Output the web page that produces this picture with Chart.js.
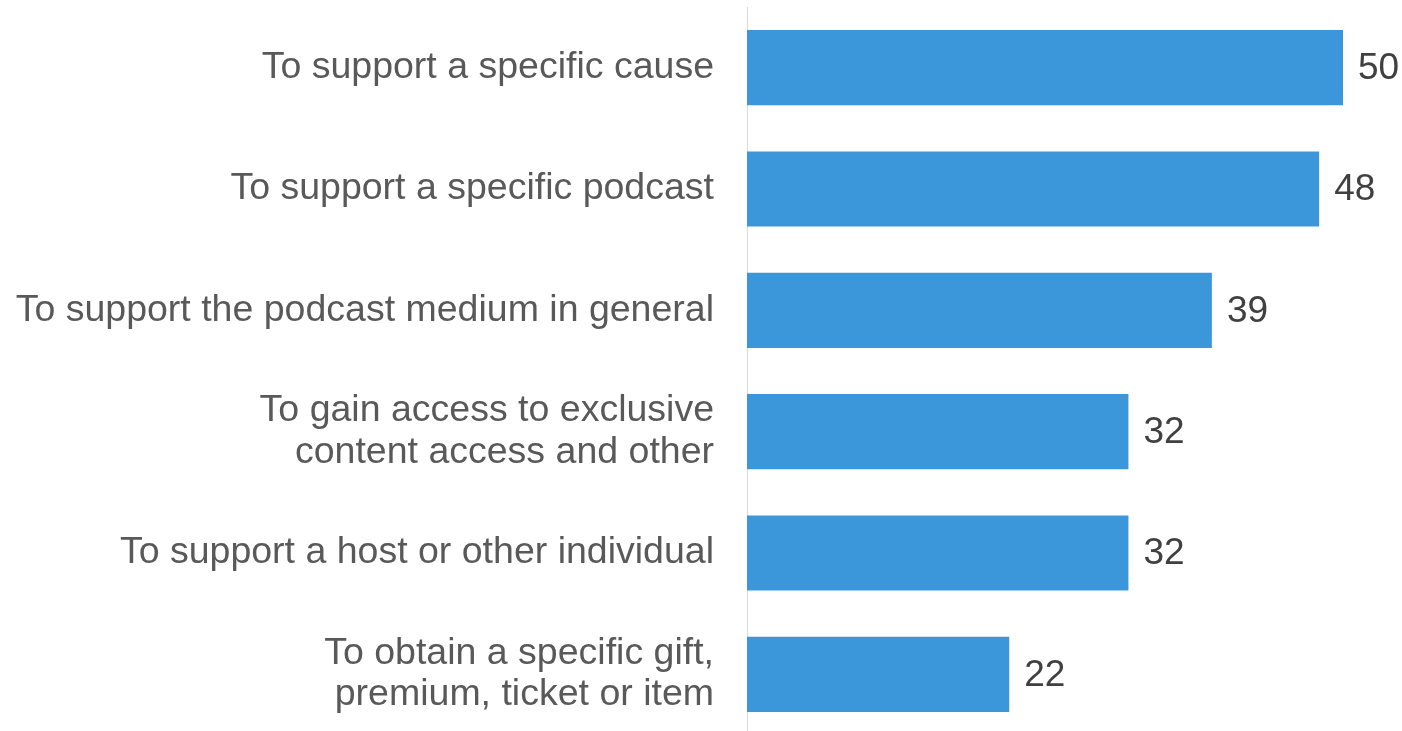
<!DOCTYPE html>
<html>
<head>
<meta charset="utf-8">
<title>Reasons for donating</title>
<script src="https://cdn.jsdelivr.net/npm/chart.js@4.4.1/dist/chart.umd.min.js"></script>
<style>
  html, body { margin: 0; padding: 0; background: #fff; overflow: hidden; }
  #wrap { position: relative; width: 1402px; height: 736px; }
</style>
</head>
<body>
<div id="wrap"><canvas id="reasonsChart"></canvas></div>
<script>
  /* ---------- Data ---------- */
  const reasons = [
    'To support a specific cause',
    'To support a specific podcast',
    'To support the podcast medium in general',
    ['To gain access to exclusive', 'content access and other'],
    'To support a host or other individual',
    ['To obtain a specific gift,', 'premium, ticket or item']
  ];
  const shares = [50, 48, 39, 32, 32, 22];

  const FONT = 'Liberation Sans, Arial, Helvetica, sans-serif';

  /* ---------- Value labels at bar ends ---------- */
  const valueLabels = {
    id: 'valueLabels',
    afterDatasetsDraw(chart) {
      const { ctx } = chart;
      const meta = chart.getDatasetMeta(0);
      ctx.save();
      ctx.font = `37px ${FONT}`;
      ctx.fillStyle = '#404040';
      ctx.textAlign = 'left';
      ctx.textBaseline = 'middle';
      meta.data.forEach((bar, i) => {
        ctx.fillText(String(shares[i]), bar.x + 15, bar.y + 1);
      });
      ctx.restore();
    }
  };

  new Chart(document.getElementById('reasonsChart'), {
    type: 'bar',
    data: {
      labels: reasons,
      datasets: [{
        data: shares,
        backgroundColor: '#3c97da',
        borderWidth: 0,
        categoryPercentage: 1,
        barPercentage: 0.62
      }]
    },
    options: {
      indexAxis: 'y',
      responsive: true,
      maintainAspectRatio: false,
      animation: false,
      layout: { padding: { top: 7, right: 59, bottom: 1, left: 0 } },
      plugins: {
        legend: { display: false },
        tooltip: { enabled: false }
      },
      scales: {
        x: {
          display: false,
          min: 0,
          max: 50
        },
        y: {
          grid: { display: false, drawTicks: false },
          border: { display: true, color: '#d9d9d9', width: 1 },
          ticks: {
            padding: 33,
            color: '#595959',
            font: { family: FONT, size: 37.5, lineHeight: 1.1 }
          },
          afterFit(scale) {
            // fixed axis width, and no extra room for the first/last label
            scale.width = 747;
            scale.paddingTop = 0;
            scale.paddingBottom = 0;
          }
        }
      }
    },
    plugins: [valueLabels]
  });
</script>
</body>
</html>
